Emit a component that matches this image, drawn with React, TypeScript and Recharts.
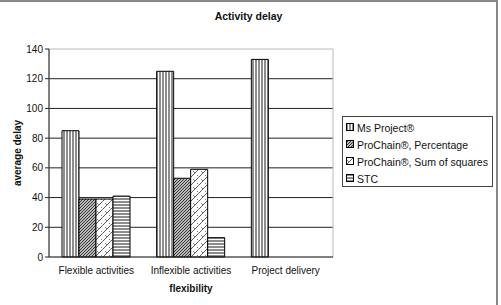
import React from 'react';
import {
  BarChart,
  Bar,
  XAxis,
  YAxis,
  CartesianGrid,
  ReferenceArea,
} from 'recharts';

const categories = ['Flexible activities', 'Inflexible activities', 'Project delivery'];
const msProject = [85, 125, 133];
const pcPercentage = [39, 53, 0];
const pcSumSquares = [39, 59, 0];
const stc = [41, 13, 0];
const yTicks = [0, 20, 40, 60, 80, 100, 120, 140];
const boundaryTicks = [0, 1, 2, 3];

const seriesNames = [
  'Ms Project®',
  'ProChain®, Percentage',
  'ProChain®, Sum of squares',
  'STC',
];
const seriesKeys = ['ms', 'pcp', 'pcs', 'stc'];
const patternIds = ['patVert', 'patHatch', 'patZig', 'patHoriz'];

const data = categories.map((name, i) => ({
  name,
  ms: msProject[i],
  pcp: pcPercentage[i] || null,
  pcs: pcSumSquares[i] || null,
  stc: stc[i] || null,
}));

const FONT = '"Liberation Sans", Arial, sans-serif';

function Patterns() {
  return (
    <svg width={0} height={0} style={{ position: 'absolute' }}>
      <defs>
        <pattern id="patVert" width="3" height="4" patternUnits="userSpaceOnUse">
          <rect width="3" height="4" fill="#fff" />
          <line x1="1" y1="0" x2="1" y2="4" stroke="#000" strokeWidth="0.9" />
        </pattern>
        <pattern id="patHatch" width="3" height="3" patternUnits="userSpaceOnUse">
          <rect width="3" height="3" fill="#bbb" />
          <path d="M-1,1 L1,-1 M0,3 L3,0 M2,4 L4,2" stroke="#222" strokeWidth="0.9" />
        </pattern>
        <pattern id="patZig" width="8" height="8" patternUnits="userSpaceOnUse">
          <rect width="8" height="8" fill="#fff" />
          <path d="M0,8 L8,0 M-2,2 L2,-2 M6,10 L10,6" stroke="#333" strokeWidth="0.8" />
          <path d="M1,3 L3,5 M5,7 L7,9" stroke="#333" strokeWidth="0.6" />
        </pattern>
        <pattern id="patHoriz" width="4" height="3" patternUnits="userSpaceOnUse">
          <rect width="4" height="3" fill="#fff" />
          <line x1="0" y1="1" x2="4" y2="1" stroke="#000" strokeWidth="0.9" />
        </pattern>
      </defs>
    </svg>
  );
}

function LegendBox() {
  return (
    <div
      style={{
        position: 'absolute',
        left: 342,
        top: 116,
        width: 151,
        height: 71,
        boxSizing: 'border-box',
        border: '1px solid #444',
        background: '#fff',
        padding: '2px 0 0 3px',
        fontFamily: FONT,
        fontSize: 10.5,
        color: '#111',
        whiteSpace: 'nowrap',
      }}
    >
      {seriesNames.map((n, i) => (
        <div key={n} style={{ display: 'flex', alignItems: 'center', height: 17 }}>
          <svg width={9} height={9} style={{ marginRight: 2, flex: 'none' }}>
            <rect x={0.5} y={0.5} width={7} height={7} fill={`url(#${patternIds[i]})`} stroke="#000" />
          </svg>
          <span>{n}</span>
        </div>
      ))}
    </div>
  );
}

export default function App() {
  return (
    <div
      style={{
        position: 'fixed',
        left: 0,
        top: 0,
        width: 501,
        height: 305,
        background: '#fff',
        overflow: 'hidden',
      }}
    >
      <Patterns />
      <div
        style={{
          position: 'absolute',
          top: 10,
          left: 0,
          width: 497,
          textAlign: 'center',
          fontFamily: FONT,
          fontWeight: 'bold',
          fontSize: 10.5,
          color: '#111',
        }}
      >
        Activity delay
      </div>
      <BarChart
        width={501}
        height={305}
        data={data}
        margin={{ top: 49, right: 168, bottom: 0, left: 0 }}
        barSize={17}
        barGap={0}
      >
        <ReferenceArea y1={0} y2={140} fill="none" stroke="#bbb" ifOverflow="visible" />
        <CartesianGrid vertical={false} stroke="#222" horizontalValues={[20, 40, 60, 80, 100, 120]} />
        <XAxis
          xAxisId="bounds"
          type="number"
          domain={[0, 3]}
          ticks={boundaryTicks}
          interval={0}
          height={0}
          axisLine={false}
          tickSize={4}
          tickLine={{ stroke: '#222' }}
          tickFormatter={() => ''}
        />
        <XAxis
          dataKey="name"
          tickLine={false}
          axisLine={{ stroke: '#222' }}
          tick={{ fill: '#111', fontSize: 10, fontFamily: FONT }}
          tickMargin={4}
          height={48}
          label={{
            value: 'flexibility',
            position: 'insideBottom',
            offset: 13,
            fill: '#111',
            fontSize: 10,
            fontWeight: 'bold',
            fontFamily: FONT,
          }}
        />
        <YAxis
          domain={[0, 140]}
          ticks={yTicks}
          width={49}
          interval={0}
          tickSize={4}
          axisLine={{ stroke: '#222' }}
          tickLine={{ stroke: '#222' }}
          tick={{ fill: '#111', fontSize: 10, fontFamily: FONT }}
          label={{
            value: 'average delay',
            angle: -90,
            position: 'insideLeft',
            offset: 17,
            fill: '#111',
            fontSize: 10,
            fontWeight: 'bold',
            fontFamily: FONT,
            style: { textAnchor: 'middle' },
          }}
        />
        {seriesKeys.map((k, i) => (
          <Bar
            key={k}
            dataKey={k}
            name={seriesNames[i]}
            fill={`url(#${patternIds[i]})`}
            stroke="#000"
            strokeWidth={1}
            isAnimationActive={false}
          />
        ))}
      </BarChart>
      <LegendBox />
      <div style={{ position: 'absolute', left: 0, top: 0, width: 498, height: 2, background: '#888' }} />
      <div style={{ position: 'absolute', left: 496, top: 0, width: 2, height: 305, background: '#888' }} />
    </div>
  );
}
